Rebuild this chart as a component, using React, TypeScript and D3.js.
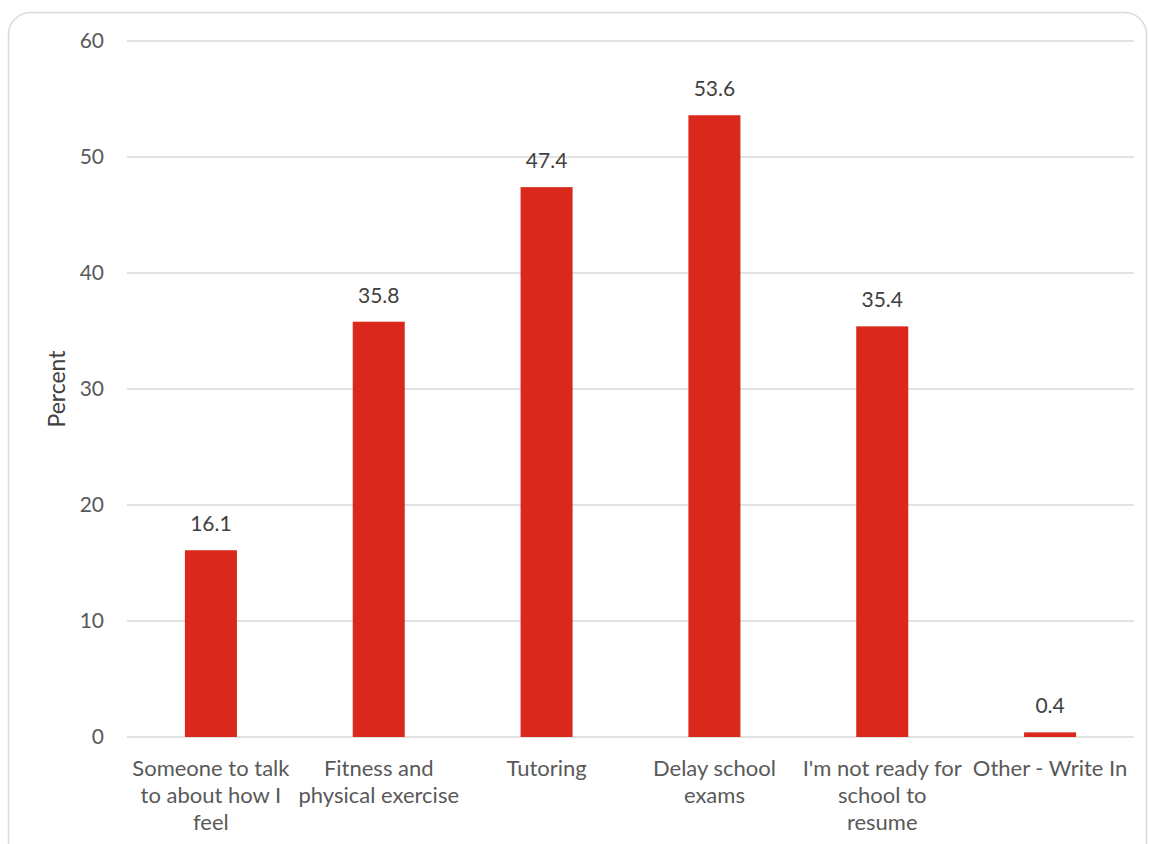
import React from "react";
import * as d3 from "d3";

const categories: string[] = [
  "Someone to talk\nto about how I\nfeel",
  "Fitness and\nphysical exercise",
  "Tutoring",
  "Delay school\nexams",
  "I'm not ready for\nschool to\nresume",
  "Other - Write In",
];
const values: number[] = [16.1, 35.8, 47.4, 53.6, 35.4, 0.4];
const yTicks: number[] = [0, 10, 20, 30, 40, 50, 60];
const yLabel = "Percent";

const W = 1149;
const H = 844;
const FONT = "Lato, 'Gill Sans', 'Noto Sans', sans-serif";

export default function App() {
  const left = 127;
  const right = 1134;
  const top = 41;
  const bottom = 737;
  const x = d3
    .scaleBand<string>()
    .domain(categories)
    .range([left, right])
    .paddingInner(0.69)
    .paddingOuter(0.345);
  const y = d3.scaleLinear().domain([0, 60]).range([bottom, top]);

  return (
    <svg
      width={W}
      height={H}
      style={{ position: "absolute", left: 0, top: 0, background: "#fff" }}
      fontFamily={FONT}
    >
      <rect
        x={8.5}
        y={12.5}
        width={1138}
        height={860}
        rx={22}
        ry={22}
        fill="#fff"
        stroke="#d9d9d9"
        strokeWidth={1.5}
      />
      {yTicks.map((t) => (
        <g key={t}>
          <line
            x1={left}
            x2={right}
            y1={y(t)}
            y2={y(t)}
            stroke="#d9d9d9"
            strokeWidth={1.5}
          />
          <text
            x={104}
            y={y(t)}
            dy="0.35em"
            textAnchor="end"
            fontSize={21}
            fill="#595959"
          >
            {t}
          </text>
        </g>
      ))}
      <text
        transform={`translate(57,${(top + bottom) / 2}) rotate(-90)`}
        textAnchor="middle"
        dy="0.35em"
        fontSize={23}
        fill="#404040"
      >
        {yLabel}
      </text>
      {categories.map((c, i) => {
        const bx = x(c)!;
        const bw = x.bandwidth();
        const cx = bx + bw / 2;
        const v = values[i];
        return (
          <g key={c}>
            <rect
              x={bx}
              y={y(v)}
              width={bw}
              height={bottom - y(v)}
              fill="#da291c"
            />
            <text
              x={cx}
              y={y(v) - 19}
              textAnchor="middle"
              fontSize={21}
              fill="#404040"
            >
              {v}
            </text>
            {c.split("\n").map((line, j) => (
              <text
                key={j}
                x={cx}
                y={776 + j * 27}
                textAnchor="middle"
                fontSize={22}
                fill="#595959"
              >
                {line}
              </text>
            ))}
          </g>
        );
      })}
    </svg>
  );
}
